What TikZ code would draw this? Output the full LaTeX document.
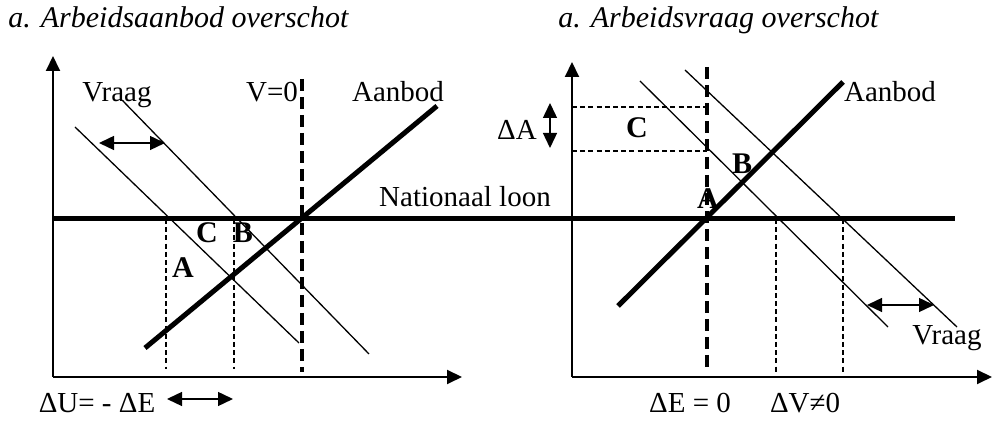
\documentclass[tikz,border=0pt]{standalone}
\usepackage{fontspec}
\setmainfont{Liberation Serif}
\usepackage{tikz}
\usetikzlibrary{arrows.meta, positioning}

\begin{document}
\begin{tikzpicture}[x=0.5pt, y=-0.5pt,
    axis/.style={line width=1pt, -{Triangle[length=7.5pt, width=7pt]}},
    curve/.style={line width=0.65pt},
    heavy/.style={line width=2.5pt},
    zeroline/.style={line width=2pt, dash pattern=on 6pt off 3pt},
    guide/.style={line width=0.6pt, dash pattern=on 2.5pt off 1.6pt},
    shiftarrow/.style={line width=0.7pt, {Triangle[length=7.5pt, width=7pt]}-{Triangle[length=7.5pt, width=7pt]}},
    lbl/.style={font=\fontsize{14.5}{17}\selectfont, inner sep=0pt, anchor=base},
    pnt/.style={font=\fontsize{15}{17}\selectfont\bfseries, inner sep=0pt, anchor=base},
    ttl/.style={font=\fontsize{15}{18}\selectfont\itshape, inner sep=0pt, anchor=base west}
]
\useasboundingbox (0,0) rectangle (992,421);

% titles
\node[ttl] (title1) at (8,28) {a. Arbeidsaanbod overschot};
\node[ttl] (title2) at (558,28) {a. Arbeidsvraag overschot};

% left panel
\draw[guide] (166,219) -- (166,369);
\draw[guide] (234,219) -- (234,369);
\draw[curve] (75,127) -- (299,343);
\draw[curve] (122,100) -- (369,354);
\draw[zeroline] (302,79) -- (302,372);
\draw[heavy] (145,348) -- (437,106);
\draw[axis] (53,377) -- (53,56);
\draw[axis] (53,377) -- (462,377);
\draw[shiftarrow] (99,143) -- (165,143);
\draw[shiftarrow] (167,399) -- (233,399);

\node[lbl] (vraag1) at (117,102) {Vraag};
\node[lbl] (v0) at (272,102) {V=0};
\node[lbl] (aanbod1) at (398,102) {Aanbod};
\node[pnt] (c1) at (207,243) {C};
\node[pnt] (b1) at (243,243) {B};
\node[pnt] (a1) at (183,278) {A};
\node[lbl] (du) at (97,413) {ΔU= - ΔE};

% wage line
\draw[heavy] (53,219) -- (955,219);
\node[lbl] (loon) at (465,207) {Nationaal loon};

% right panel
\draw[guide] (572,107) -- (707,107);
\draw[guide] (572,151) -- (707,151);
\draw[guide] (776,219) -- (776,372);
\draw[guide] (843,219) -- (843,372);
\draw[curve] (640,81) -- (888,327);
\draw[curve] (685,70) -- (957,327);
\draw[zeroline] (707,67) -- (707,370);
\draw[heavy] (618,306) -- (843,82);
\draw[axis] (572,377) -- (572,62);
\draw[axis] (572,377) -- (992,377);
\draw[shiftarrow] (867,305) -- (934,305);
\draw[shiftarrow] (550,103) -- (550,148);

\node[lbl] (da) at (517,140) {ΔA};
\node[pnt] (c2) at (637,138) {C};
\node[pnt] (b2) at (742,174) {B};
\node[pnt] (a2) at (708,209) {A};
\node[lbl] (aanbod2) at (890,102) {Aanbod};
\node[lbl] (vraag2) at (947,345) {Vraag};
\node[lbl] (de) at (690,413) {ΔE = 0};
\node[lbl] (dv) at (805,413) {ΔV≠0};

\end{tikzpicture}
\end{document}
